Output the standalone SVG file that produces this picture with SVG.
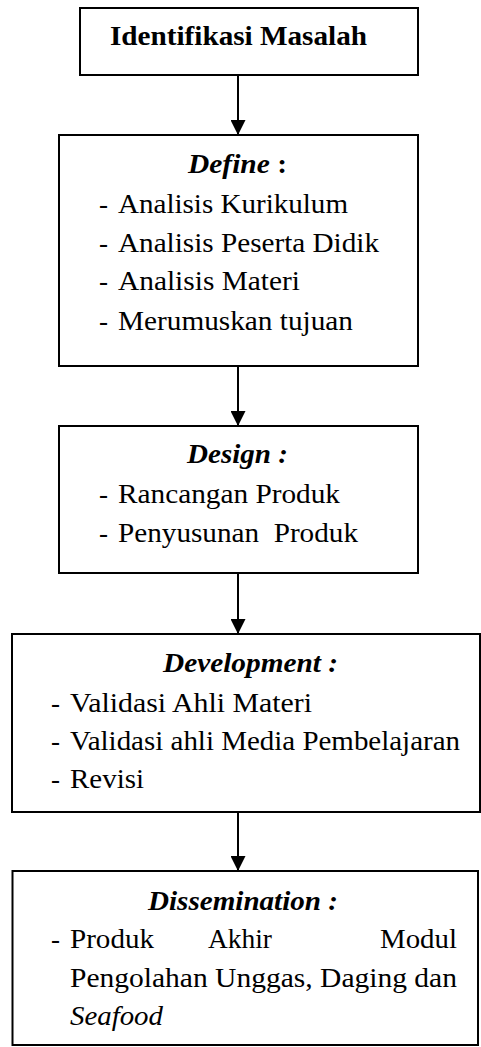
<svg xmlns="http://www.w3.org/2000/svg" width="481" height="1047" viewBox="0 0 481 1047">
<style>
.box{fill:#fff;stroke:#000;stroke-width:2}
.t{font-family:"Liberation Serif","Times New Roman",serif;fill:#000}
.b{font-size:27px}
.h{font-size:27px;font-weight:bold}
.hi{font-style:italic}
.c{stroke:#000;stroke-width:2;fill:none}
</style>
<defs>
<marker id="ah" markerUnits="userSpaceOnUse" markerWidth="15" markerHeight="15" refX="15" refY="7.5" orient="auto" viewBox="0 0 15 15">
<path d="M0,0 L15,7.5 L0,15 z" fill="#000"/>
</marker>
</defs>
<rect width="481" height="1047" fill="#fff"/>
<g id="connectors">
<line class="c" x1="238" y1="75" x2="238" y2="135" marker-end="url(#ah)"/>
<line class="c" x1="238" y1="366" x2="238" y2="426" marker-end="url(#ah)"/>
<line class="c" x1="238" y1="573" x2="238" y2="634" marker-end="url(#ah)"/>
<line class="c" x1="238" y1="812" x2="238" y2="871" marker-end="url(#ah)"/>
</g>
<g id="identifikasi">
<rect class="box" x="80" y="8" width="338" height="67"/>
<text class="t" x="110" y="45" font-size="27" font-weight="bold" textLength="257" lengthAdjust="spacingAndGlyphs">Identifikasi Masalah</text>
</g>
<g id="define">
<rect class="box" x="59" y="135" width="359" height="231"/>
<text class="t h" x="188" y="173" textLength="99" lengthAdjust="spacingAndGlyphs"><tspan class="hi">Define</tspan> :</text>
<text class="t b" x="99" y="213" textLength="9" lengthAdjust="spacingAndGlyphs">-</text>
<text class="t b" x="118" y="213" textLength="230" lengthAdjust="spacingAndGlyphs">Analisis Kurikulum</text>
<text class="t b" x="99" y="252" textLength="9" lengthAdjust="spacingAndGlyphs">-</text>
<text class="t b" x="118" y="252" textLength="261" lengthAdjust="spacingAndGlyphs">Analisis Peserta Didik</text>
<text class="t b" x="99" y="290" textLength="9" lengthAdjust="spacingAndGlyphs">-</text>
<text class="t b" x="118" y="290" textLength="182" lengthAdjust="spacingAndGlyphs">Analisis Materi</text>
<text class="t b" x="99" y="330" textLength="9" lengthAdjust="spacingAndGlyphs">-</text>
<text class="t b" x="118" y="330" textLength="235" lengthAdjust="spacingAndGlyphs">Merumuskan tujuan</text>
</g>
<g id="design">
<rect class="box" x="59" y="426" width="359" height="147"/>
<text class="t h hi" x="187" y="463" textLength="101" lengthAdjust="spacingAndGlyphs">Design :</text>
<text class="t b" x="99" y="503" textLength="9" lengthAdjust="spacingAndGlyphs">-</text>
<text class="t b" x="118" y="503" textLength="222" lengthAdjust="spacingAndGlyphs">Rancangan Produk</text>
<text class="t b" x="99" y="542" textLength="9" lengthAdjust="spacingAndGlyphs">-</text>
<text class="t b" x="118" y="542" textLength="240" lengthAdjust="spacingAndGlyphs" xml:space="preserve">Penyusunan  Produk</text>
</g>
<g id="development">
<rect class="box" x="12" y="634" width="468" height="178"/>
<text class="t h hi" x="163" y="672" textLength="175" lengthAdjust="spacingAndGlyphs">Development :</text>
<text class="t b" x="51" y="712" textLength="9" lengthAdjust="spacingAndGlyphs">-</text>
<text class="t b" x="70" y="712" textLength="242" lengthAdjust="spacingAndGlyphs">Validasi Ahli Materi</text>
<text class="t b" x="51" y="750" textLength="9" lengthAdjust="spacingAndGlyphs">-</text>
<text class="t b" x="70" y="750" textLength="390" lengthAdjust="spacingAndGlyphs">Validasi ahli Media Pembelajaran</text>
<text class="t b" x="51" y="788" textLength="9" lengthAdjust="spacingAndGlyphs">-</text>
<text class="t b" x="70" y="788" textLength="74" lengthAdjust="spacingAndGlyphs">Revisi</text>
</g>
<g id="dissemination">
<rect class="box" x="12.5" y="871" width="465.5" height="174"/>
<text class="t h hi" x="148" y="910" textLength="190" lengthAdjust="spacingAndGlyphs">Dissemination :</text>
<text class="t b" x="51" y="948" textLength="9" lengthAdjust="spacingAndGlyphs">-</text>
<text class="t b" x="70" y="948" textLength="84" lengthAdjust="spacingAndGlyphs">Produk</text>
<text class="t b" x="208" y="948" textLength="64" lengthAdjust="spacingAndGlyphs">Akhir</text>
<text class="t b" x="380" y="948" textLength="77" lengthAdjust="spacingAndGlyphs">Modul</text>
<text class="t b" x="70" y="987" textLength="387" lengthAdjust="spacingAndGlyphs">Pengolahan Unggas, Daging dan</text>
<text class="t b hi" x="70" y="1025" textLength="93" lengthAdjust="spacingAndGlyphs">Seafood</text>
</g>
</svg>
